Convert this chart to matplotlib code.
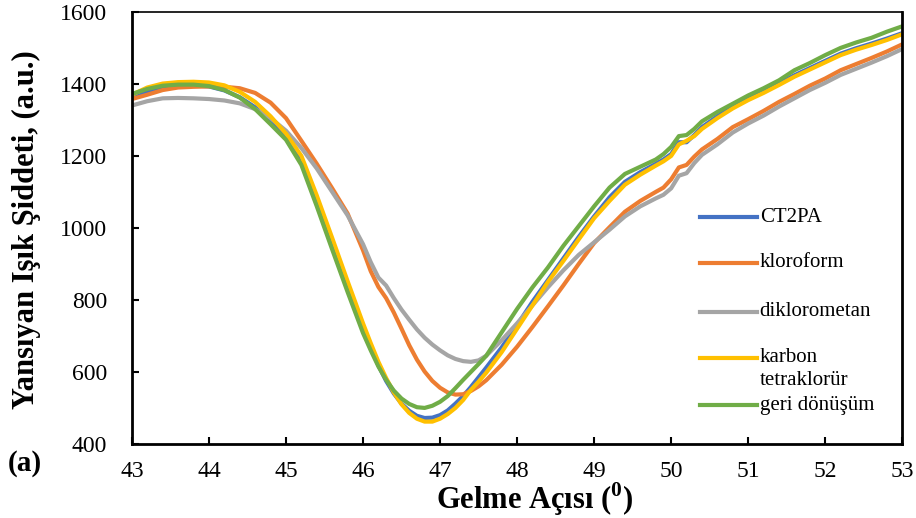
import matplotlib
matplotlib.use('Agg')
import matplotlib.pyplot as plt

plt.rcParams['font.family'] = ['Liberation Serif', 'DejaVu Serif']
plt.rcParams['mathtext.fontset'] = 'custom'
plt.rcParams['mathtext.rm'] = 'Liberation Serif'
plt.rcParams['mathtext.bf'] = 'Liberation Serif:bold'

# gelme açısı (derece)
angle = [43.0, 43.2, 43.4, 43.6, 43.8, 44.0, 44.2, 44.4, 44.6, 44.8,
         45.0, 45.2, 45.4, 45.6, 45.8, 46.0, 46.1, 46.2, 46.3, 46.4,
         46.5, 46.6, 46.7, 46.8, 46.9, 47.0, 47.1, 47.2, 47.3, 47.4,
         47.5, 47.6, 47.8, 48.0, 48.2, 48.4, 48.6, 48.8, 49.0, 49.2,
         49.4, 49.6, 49.8, 49.9, 50.0, 50.1, 50.2, 50.3, 50.4, 50.6,
         50.8, 51.0, 51.2, 51.4, 51.6, 51.8, 52.0, 52.2, 52.4, 52.6,
         52.8, 53.0]

ct2pa = [1362, 1378, 1390, 1395, 1396, 1393, 1382, 1363, 1335, 1295,
         1250, 1188, 1075, 955, 836, 720, 668, 618, 575, 540,
         512, 492, 478, 472, 473, 480, 493, 512, 533, 558,
         585, 612, 668, 730, 795, 855, 915, 975, 1032, 1085,
         1128, 1155, 1178, 1190, 1205, 1238, 1238, 1258, 1280, 1310,
         1337, 1360, 1380, 1401, 1424, 1444, 1464, 1484, 1499, 1512,
         1526, 1541]

kloroform = [1358, 1370, 1383, 1390, 1392, 1393, 1392, 1388, 1375, 1348,
             1305, 1242, 1178, 1110, 1040, 938, 880, 836, 805, 765,
             720, 674, 634, 601, 575, 556, 543, 537, 538, 547,
             560, 577, 620, 670, 725, 782, 840, 900, 958, 1002,
             1045, 1075, 1100, 1112, 1135, 1168, 1175, 1198, 1218, 1247,
             1280, 1302, 1325, 1350, 1372, 1395, 1415, 1438, 1455, 1472,
             1490, 1510]

diklorometan = [1340, 1352, 1360, 1361, 1360, 1358, 1354, 1346, 1330, 1305,
                1270, 1222, 1165, 1100, 1035, 955, 905, 862, 840, 805,
                773, 745, 718, 695, 676, 660, 646, 636, 630, 628,
                632, 645, 688, 735, 785, 835, 882, 925, 960, 995,
                1032, 1060, 1082, 1092, 1110, 1145, 1152, 1180, 1203, 1232,
                1265, 1290, 1312, 1337, 1360, 1383, 1403, 1425, 1442, 1459,
                1477, 1497]

karbon_tetraklorur = [1370, 1390, 1401, 1405, 1406, 1404, 1396, 1378, 1350, 1310,
                      1262, 1200, 1090, 972, 852, 735, 680, 628, 583, 543,
                      510, 486, 470, 462, 462, 470, 483, 500, 522, 550,
                      573, 598, 655, 720, 785, 850, 908, 968, 1027, 1075,
                      1120, 1148, 1173, 1185, 1200, 1232, 1242, 1255, 1275, 1305,
                      1332, 1355, 1375, 1397, 1420, 1440, 1460, 1480, 1495, 1508,
                      1522, 1538]

geri_donusum = [1372, 1386, 1395, 1398, 1398, 1394, 1383, 1362, 1330, 1288,
                1245, 1175, 1060, 940, 822, 708, 660, 615, 578, 548,
                526, 511, 502, 500, 506, 517, 533, 555, 578, 600,
                622, 645, 710, 775, 835, 890, 950, 1005, 1060, 1112,
                1150, 1170, 1190, 1205, 1225, 1255, 1258, 1275, 1296, 1322,
                1345, 1368, 1388, 1410, 1438, 1458, 1480, 1500, 1515, 1528,
                1545, 1560]

series = [('CT2PA', ct2pa, '#4472C4'),
          ('kloroform', kloroform, '#ED7D31'),
          ('diklorometan', diklorometan, '#A5A5A5'),
          ('karbon\ntetraklorür', karbon_tetraklorur, '#FFC000'),
          ('geri dönüşüm', geri_donusum, '#70AD47')]

fig = plt.figure(figsize=(9.16, 5.18), dpi=100)
ax = fig.add_axes([0.144, 0.143, 0.841, 0.834])

for name, vals, col in series:
    ax.plot(angle, vals, color=col, lw=3.0, solid_capstyle='round',
            solid_joinstyle='round')

ax.set_xlim(43, 53)
ax.set_ylim(400, 1600)
ax.set_xticks(range(43, 54))
ax.set_yticks(range(400, 1601, 200))
ax.tick_params(axis='x', direction='in', length=5, width=1.5, pad=12, labelsize=17)
ax.tick_params(axis='y', direction='in', length=5, width=1.5, pad=18, labelsize=17)

for side in ('left', 'bottom', 'right'):
    ax.spines[side].set_linewidth(2.0)
ax.spines['top'].set_linewidth(1.2)

ax.set_xlabel(r'Gelme Açısı ($^{\mathbf{0}}$)', fontsize=22, fontweight='bold')
ax.xaxis.set_label_coords(0.523, -0.085)
ax.set_ylabel('Yansıyan Işık Şiddeti, (a.u.)', fontsize=22, fontweight='bold')
ax.yaxis.set_label_coords(-0.118, 0.495)

fig.text(0.008, 0.105, '(a)', fontsize=21, fontweight='bold', va='center')

# lejant: Excel tarzı, çerçevesiz, metin kaydırmalı
leg_y = [0.525, 0.419, 0.306, 0.199, 0.090]
for (name, vals, col), yy in zip(series, leg_y):
    ax.plot([0.738, 0.812], [yy, yy], color=col, lw=3.0, transform=ax.transAxes)
    lines = name.split('\n')
    ax.text(0.815, yy, lines[0], transform=ax.transAxes, fontsize=15, va='center')
    if len(lines) > 1:
        ax.text(0.815, yy - 0.053, lines[1], transform=ax.transAxes, fontsize=15, va='center')

fig.savefig('out.png', dpi=100)
